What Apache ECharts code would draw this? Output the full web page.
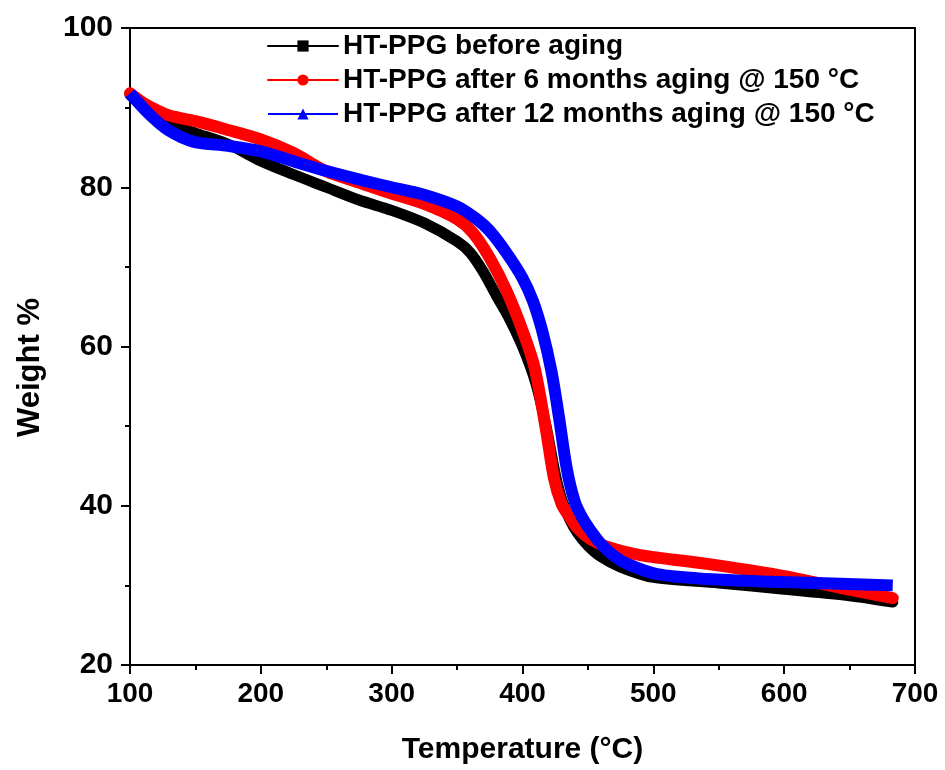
<!DOCTYPE html>
<html>
<head>
<meta charset="utf-8">
<script src="https://cdn.jsdelivr.net/npm/echarts@6/dist/echarts.min.js"></script>
<style>
html,body{margin:0;padding:0;background:#fff;}
#chart{width:945px;height:770px;}
</style>
</head>
<body>
<div id="chart"></div>
<script>
// ---- data ----
const seriesNames = [
  'HT-PPG before aging',
  'HT-PPG after 6 months aging @ 150 °C',
  'HT-PPG after 12 months aging @ 150 °C'
];
const xTicks = [100, 200, 300, 400, 500, 600, 700];
const yTicks = [20, 40, 60, 80, 100];

const blackTemp = [100,110,120,130,150,175,200,225,250,275,300,325,350,360,370,380,390,400,410,418,425,430,436,442,450,460,475,500,550,600,650,683];
const blackWt   = [91.6,90.1,88.9,87.9,86.8,85.4,83.3,81.6,80.0,78.4,77.1,75.5,73.2,71.8,69.4,66.4,63.5,60.0,55.5,50.0,44.0,40.8,38.3,36.6,35.0,33.6,32.3,31.0,30.3,29.5,28.7,27.9];

const redTemp = [100,110,120,130,150,175,200,225,250,275,300,325,350,362,375,388,400,409,418,424,430,436,442,452,464,490,541,592,643,683];
const redWt   = [91.8,90.6,89.7,89.0,88.3,87.2,86.0,84.3,82.0,80.6,79.2,77.9,76.0,74.3,71.1,66.9,62.0,57.5,49.5,43.5,40.2,38.6,37.2,35.8,34.9,33.8,32.7,31.4,29.7,28.4];

const blueTemp = [100,114,129,149,175,200,226,251,277,300,324,350,365,375,388,400,408,415,422,428,434,440,446,452,460,470,480,503,541,592,643,683];
const blueWt   = [91.8,89.3,87.2,85.7,85.2,84.5,83.2,82.0,80.9,80.0,79.1,77.6,76.0,74.5,71.7,68.6,65.7,62.0,57.0,51.0,44.5,40.5,38.4,36.9,35.2,33.7,32.7,31.4,30.8,30.45,30.2,30.0];

function pairs(xs, ys){ return xs.map((x,i)=>[x, ys[i]]); }

const FONT = 'Liberation Sans, Arial, sans-serif';
const chart = echarts.init(document.getElementById('chart'), null, {renderer:'canvas'});

const axisLineStyle = {color:'#000', width:2};

chart.setOption({
  animation:false,
  backgroundColor:'#fff',
  grid:{left:130, right:30, top:28, bottom:104, containLabel:false},
  legend:{
    orient:'vertical', left:262, top:27, itemWidth:70, itemHeight:14, itemGap:6,
    textStyle:{fontFamily:FONT, fontWeight:'bold', fontSize:28, color:'#000', lineHeight:28},
    lineStyle:{width:2},
    data:seriesNames
  },
  xAxis:[{
    type:'value', min:100, max:700, interval:100,
    name:'Temperature (°C)', nameLocation:'middle', nameGap:70,
    nameTextStyle:{fontFamily:FONT, fontWeight:'bold', fontSize:30, color:'#000'},
    axisLine:{show:true, onZero:false, lineStyle:axisLineStyle},
    axisTick:{show:true, inside:false, length:9, lineStyle:{color:'#000', width:2}},
    minorTick:{show:true, splitNumber:2, length:5, lineStyle:{color:'#000', width:2}},
    axisLabel:{fontFamily:FONT, fontWeight:'bold', fontSize:28, color:'#000', margin:15,
      formatter:function(v){ return xTicks.indexOf(v)>=0 ? String(v) : ''; }},
    splitLine:{show:false}
  },{
    type:'value', min:100, max:700, position:'top',
    axisLine:{show:true, onZero:false, lineStyle:axisLineStyle},
    axisTick:{show:false}, axisLabel:{show:false}, splitLine:{show:false}
  }],
  yAxis:[{
    type:'value', min:20, max:100, interval:20,
    name:'Weight %', nameLocation:'middle', nameGap:84, nameRotate:90,
    nameTextStyle:{fontFamily:FONT, fontWeight:'bold', fontSize:31, color:'#000', padding:[0,42,0,0]},
    axisLine:{show:true, onZero:false, lineStyle:axisLineStyle},
    axisTick:{show:true, inside:false, length:9, lineStyle:{color:'#000', width:2}},
    minorTick:{show:true, splitNumber:2, length:5, lineStyle:{color:'#000', width:2}},
    axisLabel:{fontFamily:FONT, fontWeight:'bold', fontSize:30, color:'#000', margin:17,
      formatter:function(v){ return yTicks.indexOf(v)>=0 ? String(v) : ''; }},
    splitLine:{show:false}
  },{
    type:'value', min:20, max:100, position:'right',
    axisLine:{show:true, onZero:false, lineStyle:axisLineStyle},
    axisTick:{show:false}, axisLabel:{show:false}, splitLine:{show:false}
  }],
  series:[
    {name:seriesNames[0], type:'line', data:pairs(blackTemp, blackWt), smooth:0.3,
     symbol:'rect', showSymbol:false, z:2,
     itemStyle:{color:'#000000'}, lineStyle:{color:'#000000', width:11, cap:'round'}},
    {name:seriesNames[1], type:'line', data:pairs(redTemp, redWt), smooth:0.3,
     symbol:'circle', showSymbol:false, z:3,
     itemStyle:{color:'#ff0000'}, lineStyle:{color:'#ff0000', width:12, cap:'round'}},
    {name:seriesNames[2], type:'line', data:pairs(blueTemp, blueWt), smooth:0.3,
     symbol:'triangle', showSymbol:false, z:4,
     itemStyle:{color:'#0000ff'}, lineStyle:{color:'#0000ff', width:12}}
  ]
});
</script>
</body>
</html>
